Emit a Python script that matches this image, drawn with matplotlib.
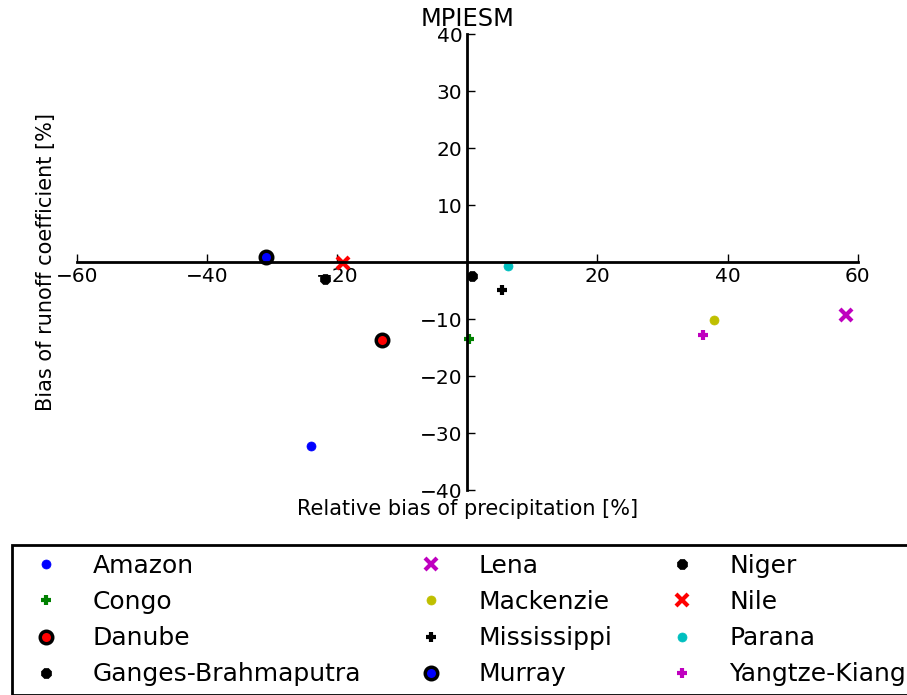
import matplotlib
matplotlib.use("Agg")
import matplotlib.pyplot as plt

rivers = ["Amazon", "Congo", "Danube", "Ganges-Brahmaputra", "Lena", "Mackenzie",
          "Mississippi", "Murray", "Niger", "Nile", "Parana", "Yangtze-Kiang"]
precip_bias = [-24.0, 0.25, -13.1, -21.9, 58.2, 38.0, 5.4, -30.9, 0.7, -19.1, 6.3, 36.2]
runoff_bias = [-32.2, -13.5, -13.7, -3.0, -9.3, -10.2, -4.8, 1.0, -2.4, -0.1, -0.6, -12.7]

styles = [
    dict(marker='o', color='b', ms=6.5, mec='b', mew=0.5),
    dict(marker='+', color='g', ms=7, mec='g', mew=3),
    dict(marker='o', color='r', ms=9, mec='k', mew=2.5),
    dict(marker='8', color='k', ms=8, mec='k', mew=0.5),
    dict(marker='x', color='m', ms=8, mec='m', mew=3),
    dict(marker='o', color='y', ms=6.5, mec='y', mew=0.5),
    dict(marker='+', color='k', ms=7, mec='k', mew=3),
    dict(marker='o', color='b', ms=9, mec='k', mew=2.5),
    dict(marker='8', color='k', ms=8, mec='k', mew=0.5),
    dict(marker='x', color='r', ms=8, mec='r', mew=3),
    dict(marker='o', color='c', ms=6.5, mec='c', mew=0.5),
    dict(marker='+', color='m', ms=7, mec='m', mew=3),
]
style_colors = {'b': (0, 0, 1), 'g': (0, 0.5, 0), 'r': (1, 0, 0), 'k': (0, 0, 0),
                'm': (0.75, 0, 0.75), 'y': (0.75, 0.75, 0), 'c': (0, 0.75, 0.75)}

fig = plt.figure(figsize=(9.07, 6.95), dpi=100)
ax = fig.add_axes([0.0846, 0.2945, 0.861, 0.656])

for name, x, y, st in zip(rivers, precip_bias, runoff_bias, styles):
    ax.plot([x], [y], linestyle='none', marker=st['marker'], markersize=st['ms'],
            color=style_colors[st['color']], markeredgecolor=style_colors[st['mec']],
            markeredgewidth=st['mew'], label=name)

ax.set_xlim(-60, 60)
ax.set_ylim(-40, 40)
ax.spines['left'].set_position('zero')
ax.spines['bottom'].set_position('zero')
ax.spines['right'].set_visible(False)
ax.spines['top'].set_visible(False)
for s in ['left', 'bottom']:
    ax.spines[s].set_linewidth(2)
ax.set_xticks([-60, -40, -20, 20, 40, 60])
ax.set_yticks([-40, -30, -20, -10, 10, 20, 30, 40])
ax.tick_params(direction='in', length=6, width=1, labelsize=14.5)
ax.xaxis.set_ticks_position('bottom')
ax.yaxis.set_ticks_position('left')

ax.set_xlabel("Relative bias of precipitation [%]", fontsize=15)
ax.set_ylabel("Bias of runoff coefficient [%]", fontsize=15)
ax.xaxis.set_label_coords(0.5, -0.018)
ax.yaxis.set_label_coords(-0.026, 0.5)
ax.set_title("MPIESM", fontsize=17.4, pad=6)

leg = fig.legend(loc='upper left', bbox_to_anchor=(12 / 907, 1 - 545 / 695), ncol=3,
                 numpoints=1, fontsize=18, frameon=True, fancybox=False, framealpha=1,
                 borderpad=0.35, labelspacing=0.49, handlelength=2.0, handletextpad=0.88,
                 columnspacing=1.8, borderaxespad=0)
leg.get_frame().set_edgecolor('k')
leg.get_frame().set_linewidth(2)

fig.savefig("out.png", dpi=100)
